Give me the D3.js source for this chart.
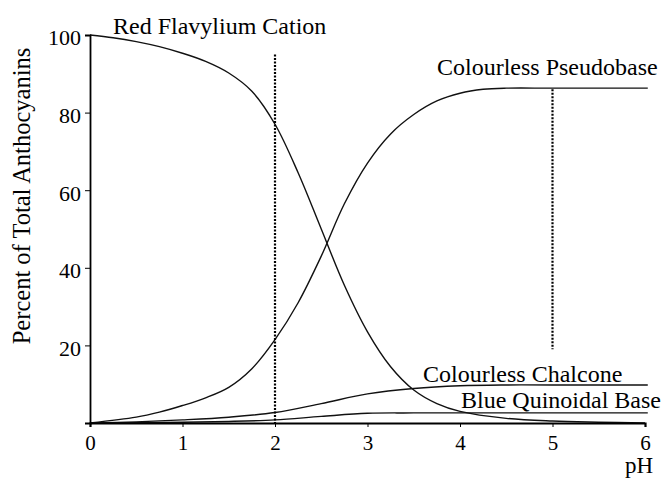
<!DOCTYPE html>
<html>
<head>
<meta charset="utf-8">
<script src="https://cdn.jsdelivr.net/npm/d3@7"></script>
<style>
  body { margin: 0; background: #fff; }
  text { font-family: "Liberation Serif", "Times New Roman", serif; fill: #000; }
</style>
</head>
<body>
<div id="chart"></div>
<script>
var w = 663,
	h = 479;

var phRed = [0, 0.25, 0.5, 0.75, 1, 1.25, 1.5, 1.75, 2, 2.25, 2.5, 2.75, 3, 3.25, 3.5, 3.75, 4, 4.5, 5, 5.5, 6];
var redCation = [100, 99.3, 98.3, 97, 95.3, 93.2, 90.2, 85.5, 77, 64.5, 50, 35.5, 23.5, 14.5, 8.5, 5, 3, 1.2, 0.5, 0.2, 0];

var phPseudo = [0, 0.5, 0.75, 1, 1.25, 1.5, 1.75, 2, 2.25, 2.5, 2.75, 3, 3.25, 3.5, 3.75, 4, 4.25, 4.5, 5, 6.03];
var pseudobase = [0, 1.5, 2.8, 4.5, 6.5, 9.2, 14, 21.5, 31, 43, 56.5, 67, 74.5, 79.5, 83, 85, 86, 86.3, 86.3, 86.3];

var phChal = [0, 0.5, 1, 1.5, 2, 2.5, 3, 3.5, 4, 4.5, 5, 6.03];
var chalcone = [0, 0.3, 0.8, 1.5, 2.7, 5, 7.5, 8.9, 9.6, 9.8, 9.8, 9.8];

var phQuin = [0, 1, 1.5, 2, 2.5, 3, 3.5, 6.03];
var quinoidal = [0, 0.2, 0.4, 0.8, 1.7, 2.5, 2.6, 2.6];

var xTicks = [0, 1, 2, 3, 4, 5, 6];
var yTicks = [20, 40, 60, 80, 100];

// dotted markers at pH 2 and pH 5
var markers = [{ph: 2, top: 95, bottom: 0}, {ph: 5, top: 86, bottom: 19}];

var x = d3.scaleLinear().domain([0, 6]).range([90, 645]);
var y = d3.scaleLinear().domain([0, 100]).range([423, 35]);

var svg = d3.select("#chart")
	.append("svg")
	.attr("width", w)
	.attr("height", h);

function pairs(xs, ys) {
	return xs.map(function(v, i) { return [v, ys[i]]; });
}

var line = d3.line()
	.x(function(d) { return x(d[0]); })
	.y(function(d) { return y(d[1]); })
	.curve(d3.curveCatmullRom.alpha(0.5));

var series = [pairs(phRed, redCation), pairs(phPseudo, pseudobase),
	pairs(phChal, chalcone), pairs(phQuin, quinoidal)];

svg.selectAll(".curve")
	.data(series)
	.enter()
	.append("path")
	.attr("class", "curve")
	.attr("d", line)
	.attr("fill", "none")
	.attr("stroke", "#111")
	.attr("stroke-width", 1.4);

svg.selectAll(".marker")
	.data(markers)
	.enter()
	.append("line")
	.attr("x1", function(d) { return x(d.ph); })
	.attr("x2", function(d) { return x(d.ph); })
	.attr("y1", function(d) { return y(d.top); })
	.attr("y2", function(d) { return y(d.bottom); })
	.attr("stroke", "#000")
	.attr("stroke-width", 2.2)
	.attr("stroke-dasharray", "2,1.5");

// axes
var xAxis = svg.append("g")
	.attr("transform", "translate(0," + y(0) + ")")
	.call(d3.axisBottom(x).tickValues(xTicks).tickSize(4).tickPadding(8).tickFormat(d3.format("d")))
	.attr("font-family", "Liberation Serif");
xAxis.select(".domain").attr("stroke-width", 2.2);
xAxis.selectAll("text").attr("font-size", 21);

var yAxis = svg.append("g")
	.attr("transform", "translate(" + x(0) + ",0)")
	.call(d3.axisLeft(y).tickValues(yTicks).tickSize(5).tickPadding(4).tickFormat(d3.format("d")))
	.attr("font-family", "Liberation Serif");
yAxis.select(".domain").attr("stroke-width", 1.8);
yAxis.selectAll("text").attr("font-size", 22).attr("dy", "0.45em");

svg.append("text")
	.attr("x", 653)
	.attr("y", 473)
	.attr("text-anchor", "end")
	.attr("font-size", 23)
	.text("pH");

svg.append("text")
	.attr("transform", "translate(30,196) rotate(-90)")
	.attr("text-anchor", "middle")
	.attr("font-size", 24.5)
	.text("Percent of Total Anthocyanins");

// curve labels
var labels = [
	{t: "Red Flavylium Cation", x: 113, y: 34},
	{t: "Colourless Pseudobase", x: 437, y: 75},
	{t: "Colourless Chalcone", x: 423, y: 382},
	{t: "Blue Quinoidal Base", x: 461, y: 408}
];
svg.selectAll(".lab")
	.data(labels)
	.enter()
	.append("text")
	.attr("class", "lab")
	.attr("x", function(d) { return d.x; })
	.attr("y", function(d) { return d.y; })
	.attr("font-size", 24)
	.text(function(d) { return d.t; });
</script>
</body>
</html>
